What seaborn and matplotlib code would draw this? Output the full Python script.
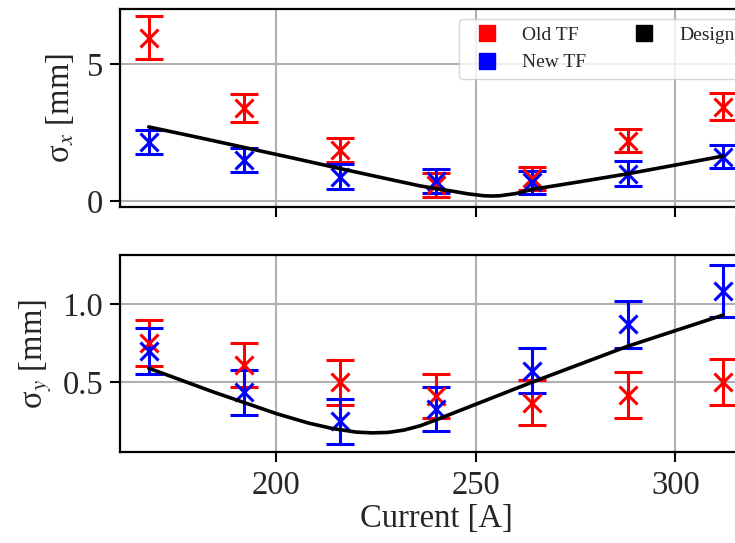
import matplotlib
matplotlib.use("Agg")
import matplotlib.pyplot as plt
from matplotlib.lines import Line2D
import seaborn as sns
import pandas as pd

# ---- data ----
current = [168, 192, 216, 240, 264, 288, 312]

sx_old = [5.95, 3.39, 1.86, 0.59, 0.82, 2.19, 3.44]
sx_old_err = [0.78, 0.50, 0.45, 0.43, 0.42, 0.42, 0.50]
sx_new = [2.15, 1.50, 0.88, 0.73, 0.68, 1.00, 1.62]
sx_new_err = [0.44, 0.44, 0.45, 0.44, 0.42, 0.44, 0.42]

sy_old = [0.75, 0.61, 0.50, 0.41, 0.37, 0.42, 0.50]
sy_old_err = [0.147, 0.143, 0.145, 0.140, 0.145, 0.145, 0.146]
sy_new = [0.70, 0.435, 0.25, 0.33, 0.575, 0.87, 1.085]
sy_new_err = [0.145, 0.145, 0.142, 0.138, 0.144, 0.148, 0.165]

design_x_current = [168, 180, 192, 204, 216, 228, 236, 240, 244, 248, 252, 254, 256, 260, 264, 276, 288, 300, 312]
design_sx = [2.70, 2.33, 1.95, 1.57, 1.18, 0.80, 0.55, 0.45, 0.36, 0.26, 0.19, 0.18, 0.19, 0.27, 0.42, 0.70, 0.99, 1.31, 1.64]

design_y_current = [168, 176, 184, 192, 200, 208, 214, 220, 224, 228, 232, 236, 240, 244, 252, 264, 276, 288, 300, 312]
design_sy = [0.59, 0.515, 0.44, 0.37, 0.30, 0.24, 0.205, 0.182, 0.177, 0.18, 0.195, 0.222, 0.26, 0.30, 0.38, 0.50, 0.615, 0.73, 0.83, 0.93]

legend_labels = ["Old TF", "New TF", "Design"]
xticks = [200, 250, 300]

# ---- style ----
sns.set_theme(style="white")
plt.rcParams["font.family"] = ["Liberation Serif", "DejaVu Serif"]
plt.rcParams["mathtext.fontset"] = "stix"

FS = 23.5
W, H = 735, 543
fig = plt.figure(figsize=(W / 100, H / 100), dpi=100)
left_px, right_px = 120, 752
ax1 = fig.add_axes([left_px / W, 1 - 207 / H, (right_px - left_px) / W, 198 / H])
ax2 = fig.add_axes([left_px / W, 1 - 452.3 / H, (right_px - left_px) / W, 197.3 / H], sharex=ax1)

RED, BLUE = "#ff0000", "#0000ff"
ebkw = dict(fmt="x", markersize=13, mew=2.2, elinewidth=2.2, capsize=10, capthick=2.2, zorder=3)

def panel(ax, dcur, dval, old, olde, new, newe):
    ax.errorbar(current, old, yerr=olde, color=RED, **ebkw)
    ax.errorbar(current, new, yerr=newe, color=BLUE, **ebkw)
    df = pd.DataFrame({"I": dcur, "v": dval})
    sns.lineplot(data=df, x="I", y="v", ax=ax, color="black", lw=2.6, zorder=4)
    ax.grid(True, color="#b0b0b0", lw=1.5)
    ax.set_axisbelow(True)
    for s in ax.spines.values():
        s.set_color("black")
        s.set_linewidth(1.6)
    ax.tick_params(axis="both", direction="out", length=7, width=1.5, pad=5,
                   labelsize=FS, color="black", bottom=True, left=True)
    ax.set_xlabel("")

panel(ax1, design_x_current, design_sx, sx_old, sx_old_err, sx_new, sx_new_err)
panel(ax2, design_y_current, design_sy, sy_old, sy_old_err, sy_new, sy_new_err)

ax1.set_xlim(160.8, 319.2)
ax1.set_ylim(-0.22, 7.0)
ax1.set_yticks([0, 5])
ax1.set_yticklabels(["0", "5"])
ax2.set_ylim(0.053, 1.313)
ax2.set_yticks([0.5, 1.0])
ax2.set_yticklabels(["0.5", "1.0"])
ax2.set_xticks(xticks)
ax2.set_xticklabels([str(t) for t in xticks])
ax1.tick_params(axis="x", labelbottom=False)
ax2.tick_params(axis="x", pad=6)

ax1.set_ylabel("σ$_x$ [mm]", fontsize=FS, labelpad=8)
ax2.set_ylabel("σ$_y$ [mm]", fontsize=FS, labelpad=6)
ax2.set_xlabel("Current [A]", fontsize=FS, labelpad=2)

handles = [
    Line2D([], [], marker="s", ls="", color=RED, markersize=11.5),
    Line2D([], [], marker="s", ls="", color=BLUE, markersize=11.5),
    Line2D([], [], marker="s", ls="", color="black", markersize=11.5),
]
ax1.legend(handles, legend_labels, loc="upper right", ncol=2, fontsize=14,
           framealpha=0.8, edgecolor="#cccccc", fancybox=True)

fig.savefig("out.png", dpi=100)
